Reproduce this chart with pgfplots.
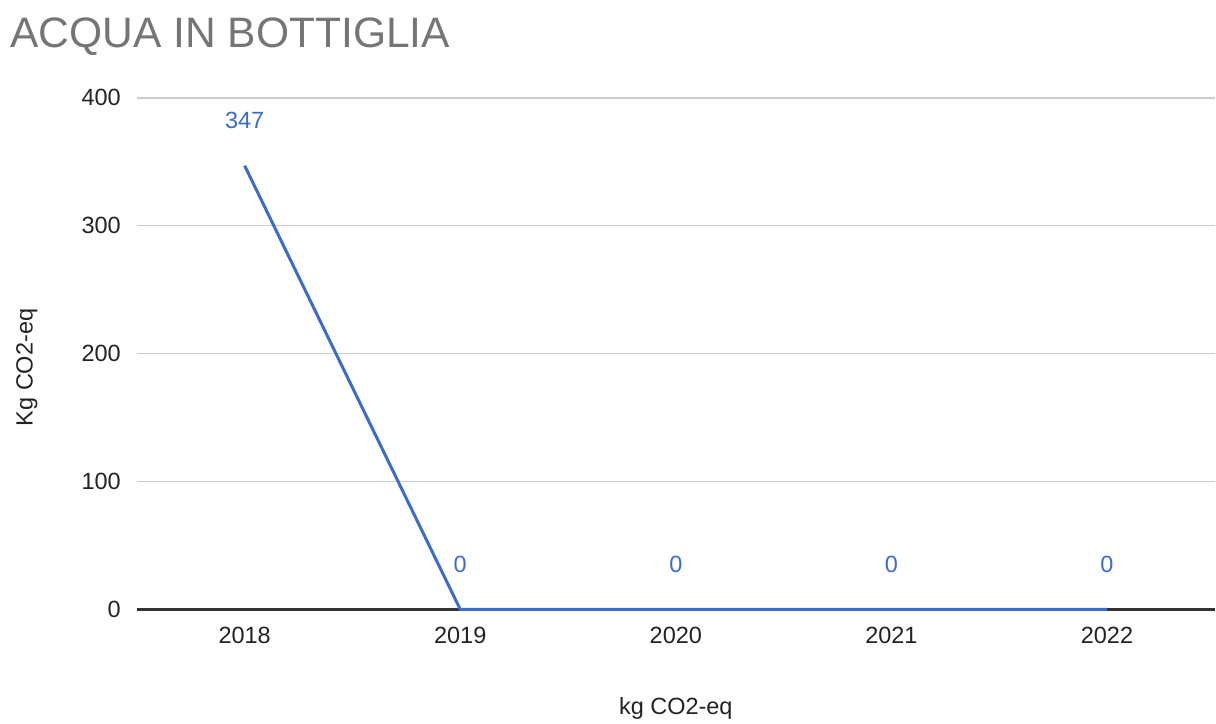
\documentclass[border=0pt]{standalone}
\usepackage{pgfplots}
\pgfplotsset{compat=1.18}
\usepackage{fontspec}
\setmainfont{Liberation Sans}

\definecolor{seriesblue}{HTML}{3B6BCB}
\definecolor{titlegray}{HTML}{757575}
\definecolor{labelgray}{HTML}{222222}
\definecolor{gridgray}{HTML}{CCCCCC}
\definecolor{zeroline}{HTML}{333333}

\begin{document}
\begin{tikzpicture}
\begin{axis}[
  scale only axis,
  width=1079pt, height=512pt,
  xmin=-0.5, xmax=4.5,
  ymin=0, ymax=400,
  xtick={0,1,2,3,4},
  xticklabels={2018,2019,2020,2021,2022},
  ytick={100,200,300,400},
  extra y ticks={0},
  extra y tick style={grid style={draw=zeroline, line width=2.5pt}},
  ymajorgrids,
  grid style={draw=gridgray, line width=1.4pt},
  axis line style={draw=none},
  major tick length=0pt,
  /pgf/number format/assume math mode=true,
  tick label style={font=\fontsize{23.5}{28}\selectfont, text=labelgray},
  yticklabel style={inner sep=0pt, xshift=-16pt},
  xticklabel style={inner sep=0pt, anchor=north, yshift=-18pt},
  xlabel={kg CO2-eq},
  ylabel={Kg CO2-eq},
  every axis x label/.style={at={(axis description cs:0.5,-0.193)}, anchor=center,
    font=\fontsize{23.5}{28}\selectfont, text=labelgray},
  every axis y label/.style={at={(axis description cs:-0.102,0.473)}, anchor=center, rotate=90,
    font=\fontsize{23.5}{28}\selectfont, text=labelgray},
  clip=false,
]
\addplot[seriesblue, line width=3pt,
  nodes near coords,
  every node near coord/.style={anchor=base, inner sep=0pt, yshift=37pt,
    font=\fontsize{23.5}{28}\selectfont, text=seriesblue},
] coordinates {(0,347) (1,0) (2,0) (3,0) (4,0)};
\end{axis}
\node[anchor=base west, inner sep=0pt, text=titlegray,
  font=\fontsize{42.6}{50}\selectfont] at (-127pt,562pt) {ACQUA IN BOTTIGLIA};
\path[use as bounding box] (-137pt,-114pt) rectangle (1079pt,610pt);
\end{tikzpicture}
\end{document}
